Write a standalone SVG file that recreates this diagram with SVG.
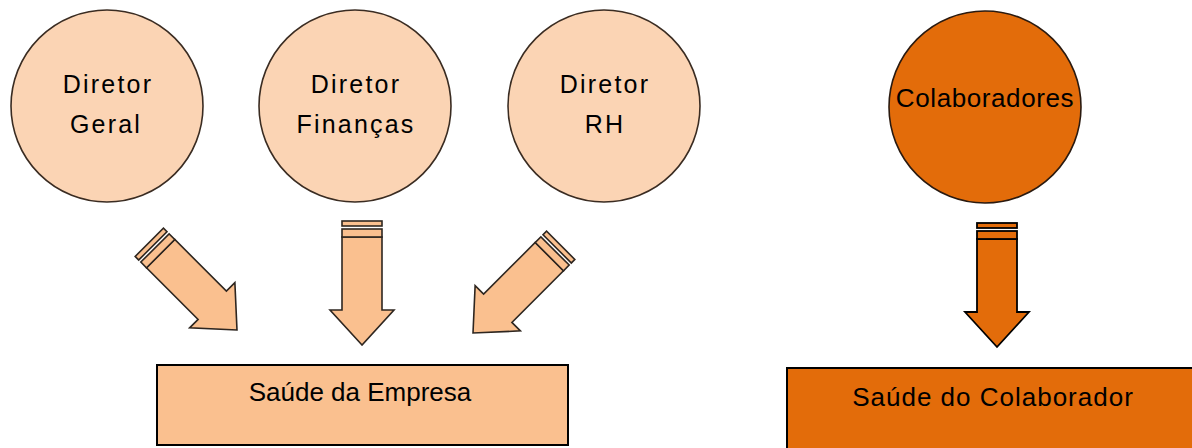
<svg xmlns="http://www.w3.org/2000/svg" width="1192" height="448" viewBox="0 0 1192 448">
<style>
.lt{fill:#FBD4B4;stroke:#3a2c22;stroke-width:1.6}
.or{fill:#E36C0A;stroke:#2a1a10;stroke-width:1.6}
.txt{font-family:"Liberation Sans",Arial,sans-serif;fill:#000;text-anchor:middle}
.dir{font-size:25px;letter-spacing:2.2px}
.arr{fill:#FAC08F;stroke:#2e2620;stroke-width:1.6;stroke-linejoin:miter}
.arrO{fill:#E36C0A;stroke:#000;stroke-width:1.8}
</style>
<defs>
<g id="arrowShape">
<path d="M0,0 L-32,-35 L-20,-35 L-20,-108 L20,-108 L20,-35 L32,-35 Z"/>
<rect x="-20" y="-116" width="40" height="8"/>
<rect x="-20" y="-124" width="40" height="5"/>
</g>
</defs>
<rect width="1192" height="448" fill="#fff"/>
<g id="node-diretor-geral">
<circle class="lt" cx="107" cy="106" r="96"/>
<text class="txt dir" x="108" y="93">Diretor</text>
<text class="txt dir" x="106" y="133">Geral</text>
</g>
<g id="node-diretor-financas">
<circle class="lt" cx="355" cy="106" r="96"/>
<text class="txt dir" x="356" y="93">Diretor</text>
<text class="txt dir" x="356" y="133">Finanças</text>
</g>
<g id="node-diretor-rh">
<circle class="lt" cx="604" cy="106" r="96"/>
<text class="txt dir" x="605" y="93">Diretor</text>
<text class="txt dir" x="605" y="133">RH</text>
</g>
<g id="node-colaboradores">
<circle class="or" cx="985" cy="107" r="96"/>
<text class="txt" x="985" y="107" font-size="26" letter-spacing="0.6">Colaboradores</text>
</g>
<g id="node-saude-empresa">
<rect x="157" y="365" width="411" height="80" fill="#FAC08F" stroke="#000" stroke-width="2"/>
<text class="txt" x="360" y="401" font-size="26">Saúde da Empresa</text>
</g>
<g id="node-saude-colaborador">
<rect x="787" y="368" width="420" height="90" fill="#E36C0A" stroke="#000" stroke-width="2"/>
<text class="txt" x="993" y="406" font-size="26" letter-spacing="1">Saúde do Colaborador</text>
</g>
<g id="connectors">
<use href="#arrowShape" class="arr" transform="translate(237,330) rotate(-45)"/>
<use href="#arrowShape" class="arr" transform="translate(362,345)"/>
<use href="#arrowShape" class="arr" transform="translate(473,333) rotate(45)"/>
<use href="#arrowShape" class="arrO" transform="translate(997,347)"/>
</g>
</svg>
